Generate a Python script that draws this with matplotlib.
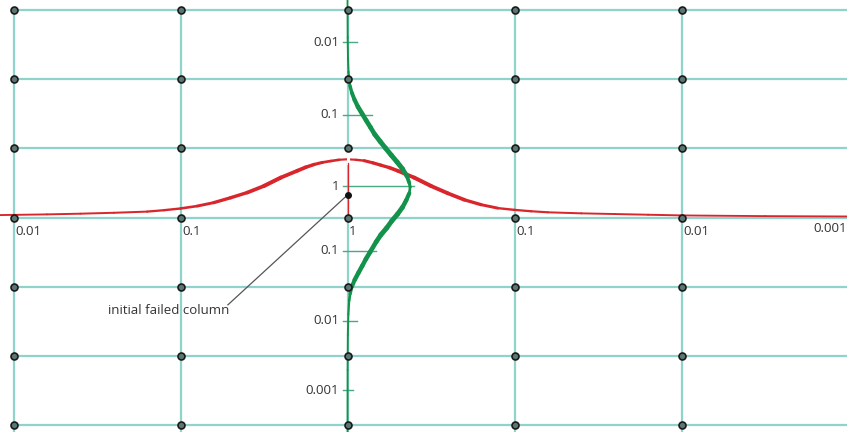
import numpy as np
import matplotlib
matplotlib.use('Agg')
import matplotlib.pyplot as plt
from matplotlib.collections import LineCollection

# grid: columns / rows in grid units
cols = [-2, -1, 0, 1, 2]
rows = [3, 2, 1, 0, -1, -2, -3]

# red curve (horizontal spread along the base row)
red_x = [-2.08, -1.8, -1.6, -1.4, -1.2, -1.1, -1.0, -0.9, -0.8, -0.7, -0.6, -0.5, -0.4, -0.3, -0.25,
         -0.2, -0.15, -0.1, -0.05, 0.0, 0.05, 0.1, 0.15, 0.2, 0.25, 0.3, 0.4, 0.5, 0.6, 0.7, 0.8,
         0.9, 1.0, 1.1, 1.2, 1.4, 1.6, 1.8, 2.0, 2.5, 3.0]
red_y = [0.035, 0.045, 0.055, 0.068, 0.085, 0.105, 0.13, 0.165, 0.215, 0.285, 0.36, 0.455, 0.575,
         0.675, 0.725, 0.765, 0.795, 0.815, 0.833, 0.84, 0.833, 0.82, 0.79, 0.755, 0.72, 0.675,
         0.575, 0.455, 0.35, 0.255, 0.185, 0.135, 0.11, 0.09, 0.075, 0.06, 0.05, 0.04, 0.03,
         0.02, 0.015]

# green curve (vertical spread along the centre column)
green_y = [3.14, 2.6, 2.3, 2.1, 2.0, 1.9, 1.8, 1.7, 1.6, 1.5, 1.4, 1.3, 1.2, 1.1, 1.0, 0.9, 0.8,
           0.7, 0.6, 0.5, 0.44, 0.35, 0.25, 0.15, 0.05, -0.05, -0.15, -0.25, -0.35, -0.5, -0.6,
           -0.7, -0.8, -0.9, -1.0, -1.1, -1.2, -1.4, -1.7, -2.2, -3.1]
green_x = [0.0, 0.001, 0.003, 0.006, 0.009, 0.015, 0.026, 0.042, 0.062, 0.087, 0.112, 0.138,
           0.163, 0.195, 0.228, 0.262, 0.297, 0.33, 0.355, 0.37, 0.375, 0.37, 0.352, 0.33, 0.30,
           0.265, 0.235, 0.20, 0.172, 0.135, 0.11, 0.088, 0.065, 0.043, 0.026, 0.016, 0.010,
           0.005, 0.002, 0.0005, 0.0]

base_labels = ['0.01', '0.1', '1', '0.1', '0.01']
col_tick_y = [2.53, 1.48, 0.45, -0.48, -1.49, -2.49]
col_tick_labels = ['0.01', '0.1', '1', '0.1', '0.01', '0.001']
col_tick_len = [0.055, 0.145, 0.40, 0.17, 0.055, 0.03]

TEAL = '#90d3ca'
RED = '#d8262c'
GREEN = '#13924c'
TXT = '#333333'
SX, SY = 167.0, 69.3   # pixels per grid unit
FS = 9.5


def pen_line(ax, x, y, color, wmin, wmax, z):
    # calligraphic stroke: thick on diagonals, thin on flat / vertical runs
    x = np.asarray(x)
    y = np.asarray(y)
    pts = np.column_stack([x, y])
    segs = np.stack([pts[:-1], pts[1:]], axis=1)
    th = np.arctan2(np.diff(y) * SY, np.diff(x) * SX)
    w = wmin + (wmax - wmin) * np.abs(np.sin(2 * th))
    lc = LineCollection(segs, colors=color, linewidths=w, capstyle='round', joinstyle='round', zorder=z)
    ax.add_collection(lc)


def main():
    fig = plt.figure(figsize=(8.47, 4.32), dpi=100)
    ax = fig.add_axes([0, 0, 1, 1])
    ax.set_xlim(-347.5 / SX, (847 - 347.5) / SX)
    ax.set_ylim((217.5 - 432) / SY, 217.5 / SY)
    ax.axis('off')

    for r in rows:
        ax.plot([cols[0], 3.2], [r, r], color=TEAL, lw=1.6, zorder=1)
    for c in cols:
        ax.plot([c, c], [rows[0], -3.3], color=TEAL, lw=1.6, zorder=1)

    # ticks on the centre column
    for yy, ln, lab in zip(col_tick_y, col_tick_len, col_tick_labels):
        ax.plot([-0.025, ln], [yy, yy], color='#4aa882', lw=1.0, zorder=2)
        ax.text(-0.05, yy, lab, ha='right', va='center', fontsize=FS, color=TXT, family='Open Sans')

    pen_line(ax, green_x, green_y, GREEN, 1.3, 3.6, 4)
    pen_line(ax, red_x, red_y, RED, 1.3, 3.3, 3)

    # break in the red curve and thin red drop line at the centre
    ax.plot([0, 0], [0.79, 0.93], color='white', lw=2.2, zorder=5)
    ax.plot([0, 0], [0, 0.79], color=RED, lw=0.9, zorder=5)

    xs, ys = np.meshgrid(cols, rows)
    ax.plot(xs.ravel(), ys.ravel(), 'o', ms=5, mfc='#5b7772', mec='#1a1a1a', mew=1.2, zorder=6)

    for c, lab in zip(cols, base_labels):
        ax.text(c + 0.01, -0.2, lab, ha='left', va='center', fontsize=FS, color=TXT, family='Open Sans')
    ax.text(2.99, -0.16, '0.001', ha='right', va='center', fontsize=FS, color=TXT, family='Open Sans')

    # annotation
    ax.plot([0], [0.325], 'o', ms=4, color='#111111', zorder=7)
    ax.plot([0, -0.716], [0.325, -1.26], color='#555555', lw=0.9, zorder=2)
    ax.text(-0.71, -1.335, 'initial failed column', ha='right', va='center', fontsize=FS,
            color=TXT, family='Open Sans')

    fig.savefig('out.png', dpi=100)


if __name__ == "__main__":
    main()
